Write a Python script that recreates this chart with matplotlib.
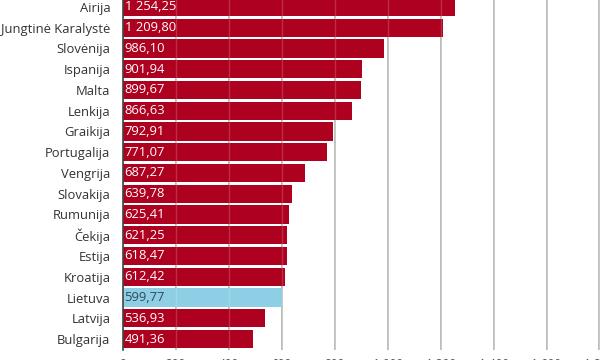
import matplotlib
matplotlib.use("Agg")
import matplotlib.pyplot as plt

countries = ["Airija", "Jungtinė Karalystė", "Slovėnija", "Ispanija", "Malta", "Lenkija",
             "Graikija", "Portugalija", "Vengrija", "Slovakija", "Rumunija", "Čekija",
             "Estija", "Kroatija", "Lietuva", "Latvija", "Bulgarija"]
values = [1254.25, 1209.80, 986.10, 901.94, 899.67, 866.63, 792.91, 771.07, 687.27,
          639.78, 625.41, 621.25, 618.47, 612.42, 599.77, 536.93, 491.36]
highlight = "Lietuva"
xticks = [0, 200, 400, 600, 800, 1000, 1200, 1400, 1600, 1800]
xticklabels = ["0", "200", "400", "600", "800", "1 000", "1 200", "1 400", "1 600", "1 800"]

def fmt(v):
    s = f"{v:,.2f}"
    return s.replace(",", " ").replace(".", ",")

plt.rcParams['font.family'] = ['Open Sans', 'DejaVu Sans']

fig = plt.figure(figsize=(6, 3.6), dpi=100)
ax = fig.add_axes([123/600, 10/360, 477/600, 350/360])

red = "#ae001f"
blue = "#8ecfe6"
colors = [blue if c == highlight else red for c in countries]
ypos = list(range(len(countries)))
ax.barh(ypos, values, height=0.88, color=colors, zorder=2, edgecolor="none")

# faint grid lines showing through the bars
for xt in xticks[1:]:
    ax.axvline(xt, color="white", alpha=0.18, linewidth=1.0, zorder=3)

for y, v, c in zip(ypos, values, countries):
    tc = "#2d4a5a" if c == highlight else "white"
    ax.text(6, y, fmt(v), color=tc, fontsize=9.4, va="center", ha="left", zorder=4)

ax.set_yticks(ypos)
ax.set_yticklabels(countries, fontsize=9.4, color="#333333")
ax.tick_params(axis="y", length=0, pad=9)
ax.set_xticks(xticks)
ax.set_xticklabels(xticklabels, fontsize=8.5, color="#555555")
ax.tick_params(axis="x", length=0, pad=6)

ax.set_xlim(0, 1802)
ax.set_ylim(16.53, -0.337)
ax.grid(axis="x", color="#a8a8a8", linewidth=1.1, zorder=1)
ax.set_axisbelow(True)
for s in ["top", "right", "bottom"]:
    ax.spines[s].set_visible(False)
ax.spines["left"].set_color("#444444")
ax.spines["left"].set_linewidth(1.2)
ax.spines["left"].set_zorder(5)

fig.savefig("out.png", dpi=100)
